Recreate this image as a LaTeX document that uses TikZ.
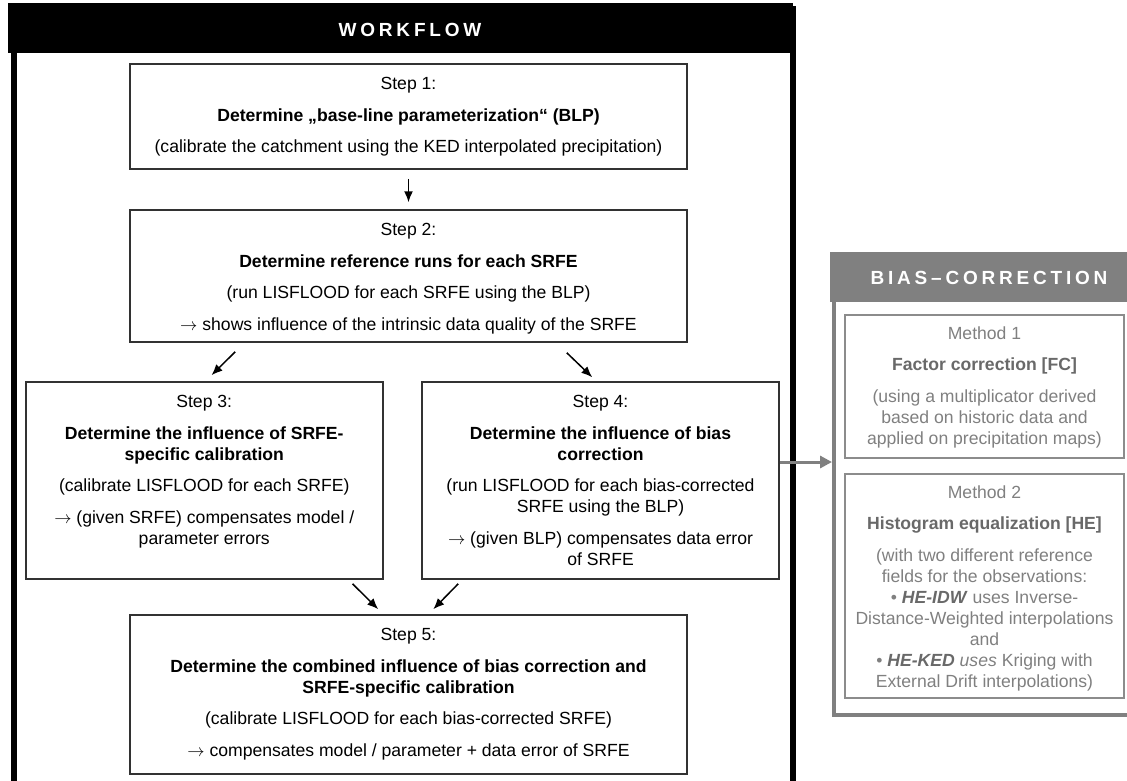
\documentclass[tikz,border=0pt]{standalone}
\usepackage{fontspec}
\setmainfont{Liberation Sans}
\newfontfamily\titlefont[LetterSpace=20]{Liberation Sans}
\usetikzlibrary{arrows.meta,positioning,calc}
\definecolor{boxline}{RGB}{50,50,50}
\definecolor{biasgray}{RGB}{128,128,128}
\definecolor{biastext}{RGB}{128,128,128}
\definecolor{biasbold}{RGB}{105,105,105}
\definecolor{biasline}{RGB}{140,140,140}
\newcommand{\then}{$\rightarrow$}

\begin{document}
\begin{tikzpicture}[x=1pt,y=-1pt]
	\def\psep{10.5pt}

	\tikzset{line/.style={draw,line width=1.5pt}}
	\tikzset{arrow/.style={line,-{Latex[length=11pt,width=9pt]}}}
	\tikzset{grayarrow/.style={draw=biasgray,line width=3pt,-{Triangle[length=12pt,width=12pt]}}}
	\tikzset{stepbox/.style={line,draw=boxline,inner sep=0pt}}
	\tikzset{steptext/.style={anchor=north,inner sep=0pt,align=center,font=\fontsize{17.6}{21}\selectfont}}
	\tikzset{methodbox/.style={line,draw=biasline,inner sep=0pt,minimum width=279pt}}
	\tikzset{methodtext/.style={steptext,text=biastext}}
	\tikzset{title/.style={inner sep=0pt,text=white,font=\titlefont\bfseries\fontsize{19}{22}\selectfont}}

	\useasboundingbox (0,0) rectangle (1127,780);
	\fill[white] (0,0) rectangle (1127,780);
	\clip (0,0) rectangle (1127,780);

	% workflow frame
	\node[draw=black,line width=6pt,inner sep=0pt,anchor=north west,minimum width=779pt,minimum height=820pt] (wf) at (11,6) {};
	\node[fill=black,inner sep=0pt,anchor=north west,minimum width=785pt,minimum height=50pt] (wfhead) at (8,3) {};
	\node[title] (wftitle) at (410,30) {WORKFLOW};

	% steps
	\node[stepbox,minimum width=557pt,minimum height=105pt] (s1) at (408.5,116.5) {};
	\node[stepbox,minimum width=557pt,minimum height=132pt] (s2) at (408.5,276) {};
	\node[stepbox,minimum width=357pt,minimum height=197pt] (s3) at (204.25,480.5) {};
	\node[stepbox,minimum width=357pt,minimum height=197pt] (s4) at (600.5,480.5) {};
	\node[stepbox,minimum width=557pt,minimum height=159pt] (s5) at (408.5,694.5) {};

	\node[steptext] (t1) at ([yshift=-14pt]s1.north) {Step 1:\\[\psep]
		\textbf{Determine „base-line parameterization“ (BLP)}\\[\psep]
		(calibrate the catchment using the KED interpolated precipitation)};
	\node[steptext] (t2) at ([yshift=-14pt]s2.north) {Step 2:\\[\psep]
		\textbf{Determine reference runs for each SRFE}\\[\psep]
		(run LISFLOOD for each SRFE using the BLP)\\[\psep]
		\then{} shows influence of the intrinsic data quality of the SRFE};
	\node[steptext] (t3) at ([yshift=-14pt]s3.north) {Step 3:\\[\psep]
		\textbf{Determine the influence of SRFE-}\\
		\textbf{specific calibration}\\[\psep]
		(calibrate LISFLOOD for each SRFE)\\[\psep]
		\then{} (given SRFE) compensates model /\\
		parameter errors};
	\node[steptext] (t4) at ([yshift=-14pt]s4.north) {Step 4:\\[\psep]
		\textbf{Determine the influence of bias}\\
		\textbf{correction}\\[\psep]
		(run LISFLOOD for each bias-corrected\\
		SRFE using the BLP)\\[\psep]
		\then{} (given BLP) compensates data error\\
		of SRFE};
	\node[steptext] (t5) at ([yshift=-14pt]s5.north) {Step 5:\\[\psep]
		\textbf{Determine the combined influence of bias correction and}\\
		\textbf{SRFE-specific calibration}\\[\psep]
		(calibrate LISFLOOD for each bias-corrected SRFE)\\[\psep]
		\then{} compensates model / parameter + data error of SRFE};

	\draw[arrow] ([yshift=-9pt]s1.south) -- ([yshift=7pt]s2.north);
	\draw[arrow] ([xshift=106pt,yshift=-9pt]s2.south west) -- ([xshift=186.5pt,yshift=6pt]s3.north west);
	\draw[arrow] ([xshift=-121pt,yshift=-10pt]s2.south east) -- ([xshift=171pt,yshift=4pt]s4.north west);
	\draw[arrow] ([xshift=-31pt,yshift=-4pt]s3.south east) -- ([xshift=249pt,yshift=5pt]s5.north west);
	\draw[arrow] ([xshift=37pt,yshift=-4pt]s4.south west) -- ([xshift=304pt,yshift=5pt]s5.north west);

	% bias correction panel
	\node[draw=biasgray,line width=4pt,inner sep=0pt,anchor=north west,minimum width=330pt,minimum height=459pt] (bias) at (832,254) {};
	\node[fill=biasgray,inner sep=0pt,anchor=north west,minimum width=310pt,minimum height=50pt] (biashead) at (830,252) {};
	\node[title] (biastitle) at (989,278) {BIAS–CORRECTION};

	\node[methodbox,minimum height=143pt] (m1) at (984.5,386.5) {};
	\node[methodbox,minimum height=224pt] (m2) at (984.5,586) {};

	\node[methodtext] (mt1) at ([yshift=-12pt]m1.north) {Method 1\\[\psep]
		\textcolor{biasbold}{\textbf{Factor correction [FC]}}\\[\psep]
		(using a multiplicator derived\\
		based on historic data and\\
		applied on precipitation maps)};
	\node[methodtext] (mt2) at ([yshift=-12pt]m2.north) {Method 2\\[\psep]
		\textcolor{biasbold}{\textbf{Histogram equalization [HE]}}\\[\psep]
		(with two different reference\\
		fields for the observations:\\
		• \textcolor{biasbold}{\textbf{\textit{HE-IDW}}} uses Inverse-\\
		Distance-Weighted interpolations\\
		and\\
		• \textcolor{biasbold}{\textbf{\textit{HE-KED}}} \textit{uses} Kriging with\\
		External Drift interpolations)};

	\draw[grayarrow] ([yshift=18.5pt]s4.east) -- ([yshift=18.5pt]s4.east -| bias.west);
\end{tikzpicture}
\end{document}
